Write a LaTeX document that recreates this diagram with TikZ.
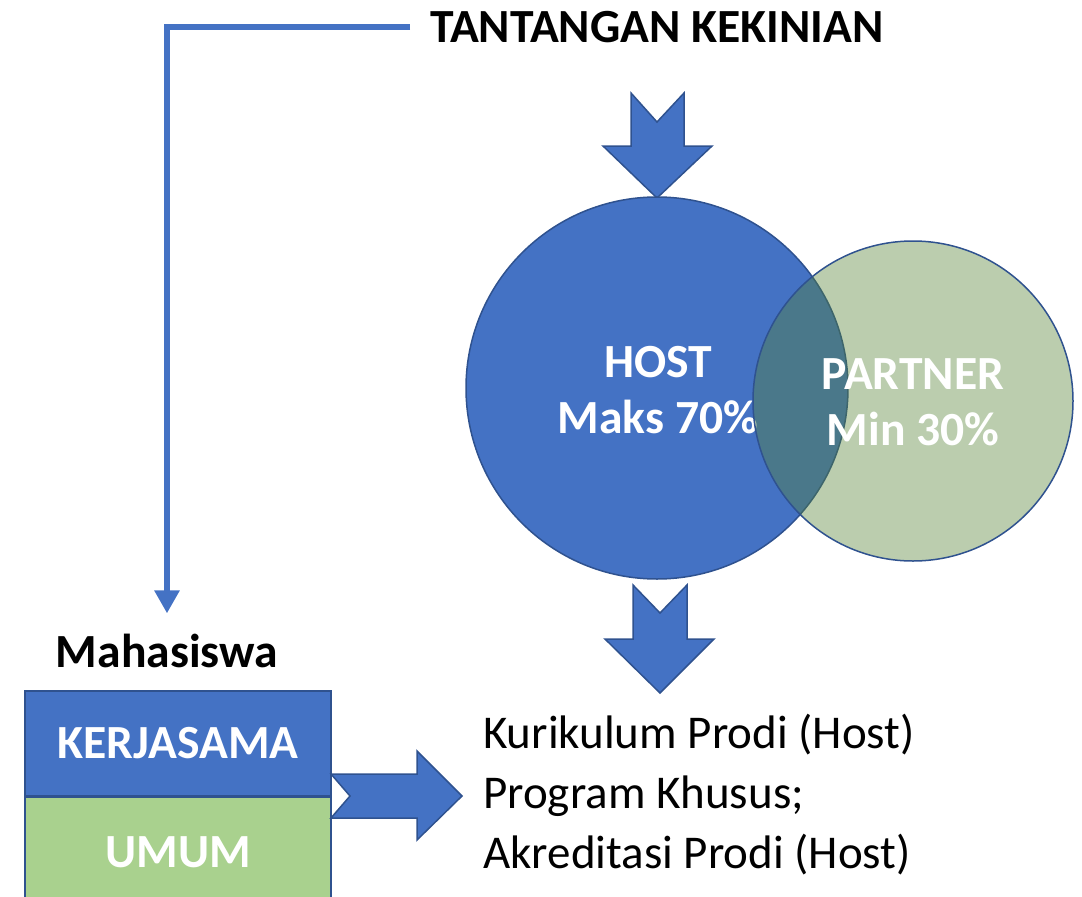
\documentclass[tikz,border=0pt]{standalone}
\usepackage{fontspec}
\setmainfont{Carlito}
\usetikzlibrary{arrows.meta}
\definecolor{hblue}{HTML}{4472C4}
\definecolor{hborder}{HTML}{2F528F}
\definecolor{pgreen}{HTML}{548235}
\definecolor{ugreen}{HTML}{A9D18E}
\tikzset{
  bigtxt/.style={font=\fontsize{47}{60}\selectfont},
  boldtxt/.style={font=\fontsize{47.6}{56}\selectfont\bfseries},
  conn/.style={draw=hblue, line width=6pt, -{Triangle[width=24pt,length=23pt]}},
  blockarrow/.style={fill=hblue, draw=hborder, line width=1.5pt, line join=miter},
  circ/.style={circle, draw=hborder, line width=1.5pt, inner sep=0pt},
  box/.style={rectangle, draw=hborder, line width=1.2pt, minimum width=306pt, inner sep=0pt, text=white},
}
\begin{document}
\begin{tikzpicture}[x=1pt,y=-1pt]
\useasboundingbox (0,0) rectangle (1082,897);
% title
\node[boldtxt, anchor=base west, inner sep=0pt] (title) at (430,42) {TANTANGAN KEKINIAN};
% Mahasiswa
\node[boldtxt, anchor=base, inner sep=0pt] (mah) at (167,667) {Mahasiswa};
\draw[conn, line cap=butt] ([xshift=-20pt]title.west) -| ([yshift=20pt]mah.north);
% top block arrow
\draw[blockarrow] (631,93) -- (657,122) -- (684,93) -- (684,146) -- (712,146) -- (657,198) -- (603,146) -- (631,146) -- cycle;
% host circle
\node[circ, fill=hblue, minimum size=382pt] (host) at (657,388) {};
\node[boldtxt, text=white, align=center, anchor=base, inner sep=0pt] (hosttxt) at (658,433) {HOST\\Maks 70\%};
% partner circle
\node[circ, fill=pgreen, fill opacity=0.4, minimum size=320pt] (partner) at (913,401) {};
\node[boldtxt, text=white, align=center, anchor=base, inner sep=0pt] (parttxt) at (913,445) {PARTNER\\Min 30\%};
% bottom block arrow
\draw[blockarrow] (633,585) -- (660,613) -- (687,585) -- (687,639) -- (714,639) -- (660,693) -- (605,639) -- (633,639) -- cycle;
% result text
\node[bigtxt, align=left, anchor=base west, inner sep=0pt] (result) at (483,868) {Kurikulum Prodi (Host)\\Program Khusus;\\Akreditasi Prodi (Host)};
% boxes
\node[box, boldtxt, fill=hblue, minimum height=105pt] (ker) at (178,743.5) {KERJASAMA};
\node[box, boldtxt, fill=ugreen, minimum height=110pt, anchor=north] (umum) at (ker.south) {UMUM};
% right block arrow
\draw[blockarrow] (331,774) -- (417,774) -- (417,751) -- (462,796) -- (417,840) -- (417,818) -- (331,818) -- (350,796) -- cycle;
\end{tikzpicture}
\end{document}
